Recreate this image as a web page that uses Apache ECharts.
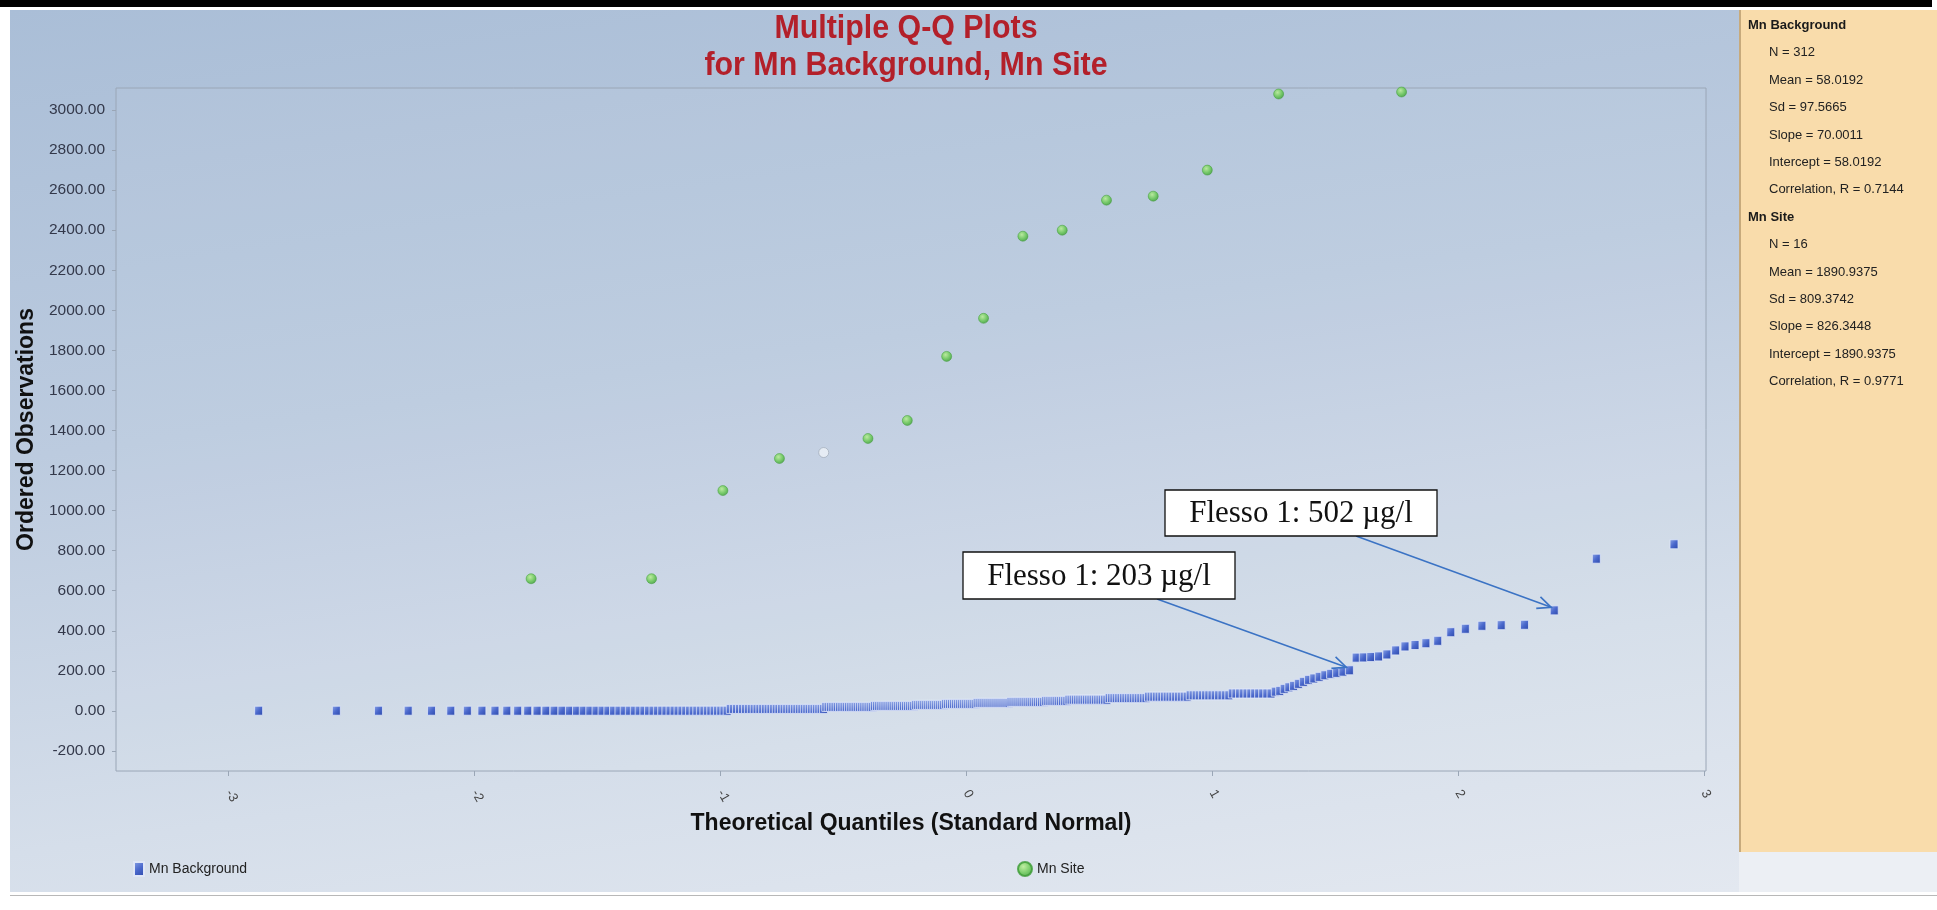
<!DOCTYPE html>
<html><head><meta charset="utf-8">
<script src="https://cdn.jsdelivr.net/npm/echarts@6/dist/echarts.min.js"></script>
<style>
html,body{margin:0;padding:0;width:1937px;height:910px;overflow:hidden;background:#fff;}
#topbar{position:absolute;left:0;top:0;width:1932px;height:7px;background:#000;}
#bg{position:absolute;left:10px;top:10px;width:1729px;height:882px;background:linear-gradient(172deg,#aabed7 0%,#bccbdf 40%,#d5deea 75%,#e3e8f0 100%);}
#side{position:absolute;left:1739px;top:10px;width:196px;height:842px;background:#f9dcab;border-left:2px solid #c7aa7c;}
#sidebottom{position:absolute;left:1739px;top:852px;width:198px;height:40px;background:#eceff4;}
#bottomline{position:absolute;left:10px;top:895px;width:1927px;height:1px;background:#b8b8b8;}
#chart{position:absolute;left:0;top:0;width:1937px;height:910px;}
</style></head>
<body>
<div id="topbar"></div><div id="bg"></div><div id="side"></div><div id="sidebottom"></div><div id="bottomline"></div>
<div id="chart"></div>
<script>
// ---------- DATA ----------
const seriesNames = ['Mn Background', 'Mn Site'];
const titleLines = ['Multiple Q-Q Plots', 'for Mn Background, Mn Site'];
// Mn Background: ordered observations, stored as level/count runs (lower part) + individual upper points
const bgLevels = [1, 10, 20, 25, 30, 35, 40, 45, 50, 56, 64, 71, 78, 87];
const bgCounts = [52, 36, 22, 20, 15, 16, 17, 17, 11, 18, 16, 15, 13, 11];
const bgRise   = [96, 100, 110, 118, 125, 135, 145, 155, 162, 170, 178, 185, 190, 196, 203];
const bgUpper  = [266, 267, 269, 272, 282, 302, 322, 329, 338, 350, 393, 410, 425, 428, 430, 502, 760, 832];
// Mn Site: theoretical quantile / ordered observation
const siteQ = [-1.77, -1.28, -0.99, -0.76, -0.58, -0.40, -0.24, -0.08, 0.07, 0.23, 0.39, 0.57, 0.76, 0.98, 1.27, 1.77];
const siteV = [660, 660, 1100, 1260, 1290, 1360, 1450, 1770, 1960, 2370, 2400, 2550, 2570, 2700, 3080, 3090];
// Axis ticks
const xTicks = [-3, -2, -1, 0, 1, 2, 3];
const yTicks = [-200, 0, 200, 400, 600, 800, 1000, 1200, 1400, 1600, 1800, 2000, 2200, 2400, 2600, 2800, 3000];
// Stats panel
const bgStats = ['N = 312', 'Mean = 58.0192', 'Sd = 97.5665', 'Slope = 70.0011', 'Intercept = 58.0192', 'Correlation, R = 0.7144'];
const siteStats = ['N = 16', 'Mean = 1890.9375', 'Sd = 809.3742', 'Slope = 826.3448', 'Intercept = 1890.9375', 'Correlation, R = 0.9771'];
// Annotations
const notes = [{ text: 'Flesso 1: 502 µg/l', value: 502 }, { text: 'Flesso 1: 203 µg/l', value: 203 }];

// ---------- Q-Q transform: theoretical normal quantile of each rank (Blom) ----------
function invNorm(p) {
  const a = [-3.969683028665376e+01, 2.209460984245205e+02, -2.759285104469687e+02, 1.383577518672690e+02, -3.066479806614716e+01, 2.506628277459239e+00];
  const b = [-5.447609879822406e+01, 1.615858368580409e+02, -1.556989798598866e+02, 6.680131188771972e+01, -1.328068155288572e+01];
  const c = [-7.784894002430293e-03, -3.223964580411365e-01, -2.400758277161838e+00, -2.549732539343734e+00, 4.374664141464968e+00, 2.938163982698783e+00];
  const d = [7.784695709041462e-03, 3.224671290700398e-01, 2.445134137142996e+00, 3.754408661907416e+00];
  const pl = 0.02425, ph = 1 - pl; let q, r;
  if (p < pl) { q = Math.sqrt(-2 * Math.log(p)); return (((((c[0]*q+c[1])*q+c[2])*q+c[3])*q+c[4])*q+c[5]) / ((((d[0]*q+d[1])*q+d[2])*q+d[3])*q+1); }
  if (p <= ph) { q = p - 0.5; r = q*q; return (((((a[0]*r+a[1])*r+a[2])*r+a[3])*r+a[4])*r+a[5])*q / (((((b[0]*r+b[1])*r+b[2])*r+b[3])*r+b[4])*r+1); }
  q = Math.sqrt(-2 * Math.log(1 - p)); return -(((((c[0]*q+c[1])*q+c[2])*q+c[3])*q+c[4])*q+c[5]) / ((((d[0]*q+d[1])*q+d[2])*q+d[3])*q+1);
}
const bgValues = [];
bgLevels.forEach((v, i) => { for (let k = 0; k < bgCounts[i]; k++) bgValues.push(v); });
bgRise.forEach(v => bgValues.push(v));
bgUpper.forEach(v => bgValues.push(v));
const nBg = bgValues.length;
const bgData = bgValues.map((v, i) => [invNorm((i + 1 - 0.375) / (nBg + 0.25)), v]);
const siteData = siteV.map((v, i) => {
  const d = { value: [siteQ[i], v] };
  if (i === 4) d.itemStyle = { color: '#eef2f7', borderColor: '#9aa4b2', borderWidth: 0.8 };
  return d;
});

// ---------- CHART ----------
const chart = echarts.init(document.getElementById('chart'), null, { renderer: 'canvas' });
const sans = '"Liberation Sans",Arial,sans-serif';
const blueSym = new echarts.graphic.LinearGradient(0, 0, 1, 1, [{ offset: 0, color: '#8ea6e6' }, { offset: 0.5, color: '#4a68cc' }, { offset: 1, color: '#2b47a8' }]);
const greenSym = new echarts.graphic.RadialGradient(0.4, 0.35, 0.7, [{ offset: 0, color: '#b8f08e' }, { offset: 0.6, color: '#5fc548' }, { offset: 1, color: '#35952e' }]);

const baseGraphics = [];
// title (condensed bold red)
titleLines.forEach((t, i) => {
  baseGraphics.push({ type: 'text', x: 906, y: 29 + 37 * i, scaleX: 0.92, z: 60,
    style: { text: t, font: 'bold 33px ' + sans, fill: '#b3202a', align: 'center', verticalAlign: 'middle' } });
});
let y0 = 27, dy = 27.4, k = 0;
[['Mn Background', bgStats], ['Mn Site', siteStats]].forEach(([head, arr]) => {
  baseGraphics.push({ type: 'text', left: 1748, top: y0 + dy * k - 8, style: { text: head, font: 'bold 13px ' + sans, fill: '#1a1a1a' } }); k++;
  arr.forEach(s => { baseGraphics.push({ type: 'text', left: 1769, top: y0 + dy * k - 8, style: { text: s, font: '13px ' + sans, fill: '#222' } }); k++; });
});

chart.setOption({
  animation: false,
  backgroundColor: 'transparent',
  legend: [
    { data: [{ name: 'Mn Background', icon: 'rect' }], left: 128, top: 856, itemWidth: 10, itemHeight: 14, itemGap: 6,
      textStyle: { fontFamily: sans, fontSize: 14, color: '#222' } },
    { data: [{ name: 'Mn Site', icon: 'circle' }], left: 1012, top: 856, itemWidth: 14, itemHeight: 14,
      textStyle: { fontFamily: sans, fontSize: 14, color: '#222' } }
  ],
  grid: { left: 116, right: 231, top: 88, bottom: 139, show: true, borderColor: '#9aa6b6', borderWidth: 1, backgroundColor: 'rgba(255,255,255,0.04)' },
  xAxis: {
    type: 'value', min: -3.458, max: 3.008,
    name: 'Theoretical Quantiles (Standard Normal)', nameLocation: 'middle', nameGap: 38,
    nameTextStyle: { fontFamily: sans, fontSize: 23, fontWeight: 'bold', color: '#111' },
    axisLine: { show: false, onZero: false }, splitLine: { show: false },
    axisTick: { show: true, customValues: xTicks, length: 5, lineStyle: { color: '#9aa6b6' } },
    axisLabel: { customValues: xTicks, rotate: -60, fontSize: 13, color: '#444', fontFamily: sans, margin: 20, formatter: v => String(v) }
  },
  yAxis: {
    type: 'value', min: -300, max: 3110,
    name: 'Ordered Observations', nameLocation: 'middle', nameGap: 78, nameRotate: 90,
    nameTextStyle: { fontFamily: sans, fontSize: 23, fontWeight: 'bold', color: '#111' },
    axisLine: { show: false, onZero: false }, splitLine: { show: false },
    axisTick: { show: true, customValues: yTicks, length: 4, lineStyle: { color: '#9aa6b6' } },
    axisLabel: { customValues: yTicks, fontSize: 15.5, color: '#33384a', fontFamily: sans, margin: 11, formatter: v => v.toFixed(2) }
  },
  series: [
    { name: seriesNames[0], type: 'scatter', symbol: 'rect', symbolSize: [8, 9], data: bgData, z: 3,
      itemStyle: { color: blueSym, borderColor: '#dfe6f7', borderWidth: 0.8, opacity: 1 } },
    { name: seriesNames[1], type: 'scatter', symbol: 'circle', symbolSize: 10, data: siteData, z: 4,
      itemStyle: { color: greenSym, borderColor: '#3a9a32', borderWidth: 0.6 } }
  ],
  graphic: baseGraphics
});

// ---------- Annotations anchored to data points ----------
const boxes = [
  { x: 1165, y: 490, w: 272, h: 46, tail: [1356, 536] },
  { x: 963, y: 552, w: 272, h: 47, tail: [1157, 599] }
];
const ann = [];
notes.forEach((n, i) => {
  const idx = bgValues.indexOf(n.value);
  const pt = chart.convertToPixel({ gridIndex: 0 }, bgData[idx]);
  const b = boxes[i];
  const tip = [pt[0] - 3, pt[1] - 3];
  const ang = Math.atan2(tip[1] - b.tail[1], tip[0] - b.tail[0]);
  const L = 15, spread = 0.42;
  const w1 = [tip[0] - L * Math.cos(ang - spread), tip[1] - L * Math.sin(ang - spread)];
  const w2 = [tip[0] - L * Math.cos(ang + spread), tip[1] - L * Math.sin(ang + spread)];
  ann.push({ type: 'line', z: 50, shape: { x1: b.tail[0], y1: b.tail[1], x2: tip[0], y2: tip[1] }, style: { stroke: '#3b73c4', lineWidth: 1.6 } });
  ann.push({ type: 'polyline', z: 50, shape: { points: [w1, tip, w2] }, style: { stroke: '#3b73c4', lineWidth: 1.6, fill: null } });
  ann.push({ type: 'rect', z: 51, shape: { x: b.x, y: b.y, width: b.w, height: b.h }, style: { fill: '#fff', stroke: '#111', lineWidth: 1.3 } });
  ann.push({ type: 'text', z: 52, x: b.x + b.w / 2, y: b.y + b.h / 2 + 1, scaleX: 1.0, style: { text: n.text, font: '31px "Liberation Serif","Times New Roman",serif', fill: '#111', align: 'center', verticalAlign: 'middle' } });
});
chart.setOption({ graphic: baseGraphics.concat(ann) });
</script>
</body></html>
